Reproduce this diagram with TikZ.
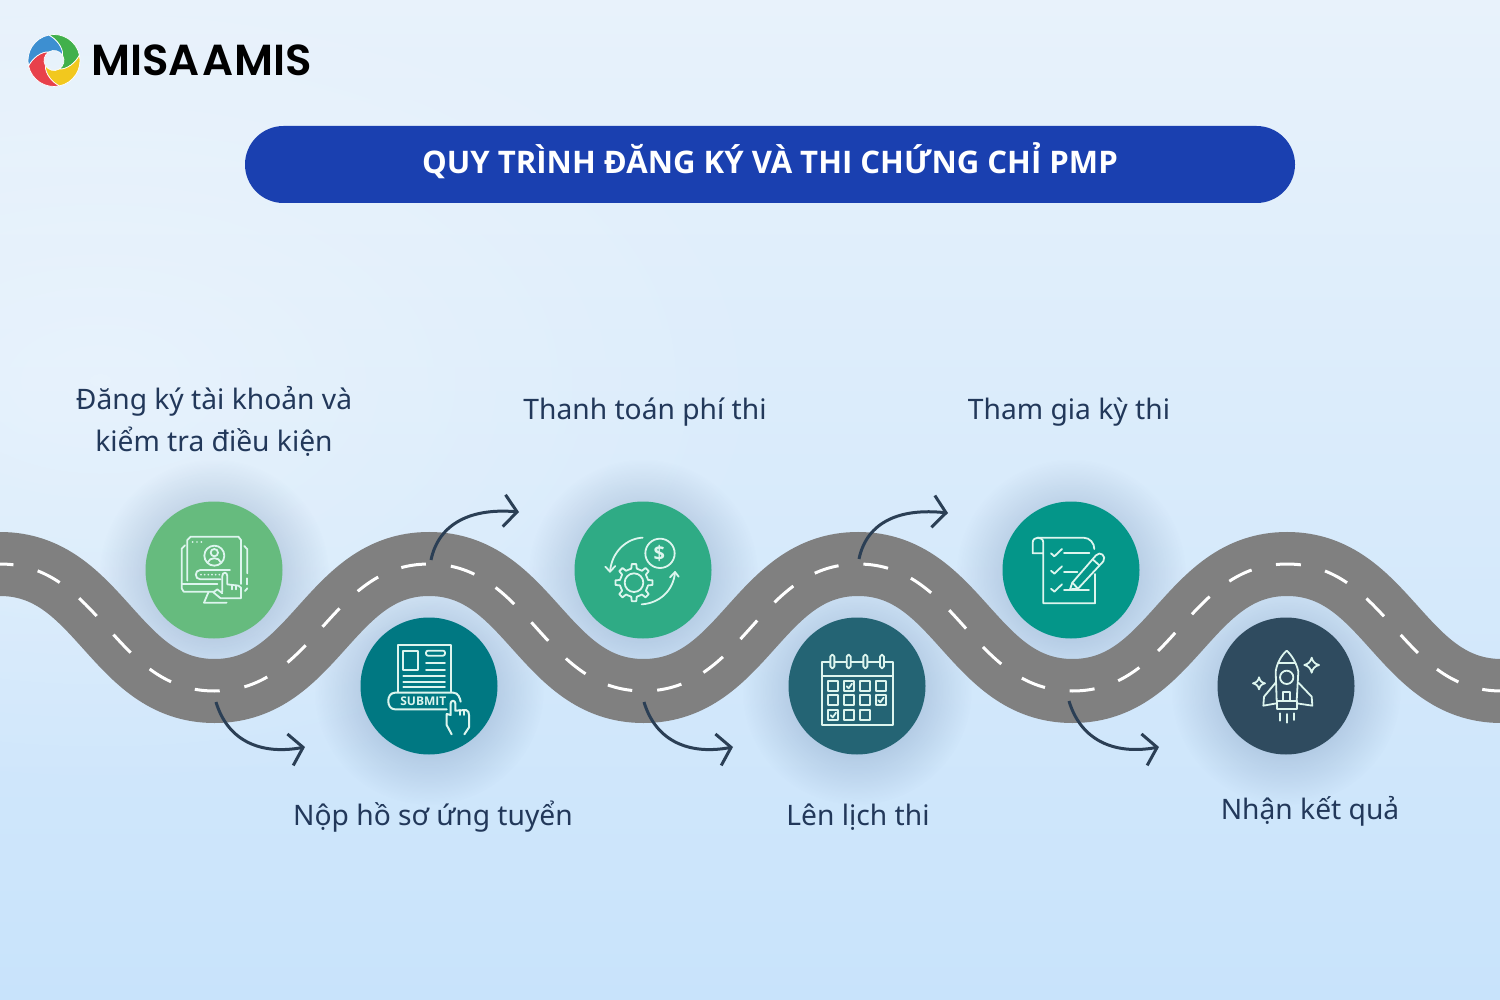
\documentclass[tikz,border=0pt]{standalone}
\usepackage{fontspec}
\setmainfont{Noto Sans}
\newfontfamily\logofont{Poppins SemiBold}
\newfontfamily\boldsans{Open Sans}
\usetikzlibrary{arrows.meta,fadings,calc}
\definecolor{bgtop}{HTML}{E8F2FB}
\definecolor{bgmid}{HTML}{E2F1FD}
\definecolor{bgbot}{HTML}{C8E3FB}
\definecolor{titlebg}{HTML}{1A40B0}
\definecolor{roadcol}{HTML}{808080}
\definecolor{navy}{HTML}{2B3F55}
\definecolor{textcol}{HTML}{22385A}
\definecolor{shadowcol}{HTML}{2F4F80}
\definecolor{iconcol}{HTML}{DDF5EE}
\tikzfading[name=softc, inner color=transparent!60, outer color=transparent!100]
\tikzset{
  disc/.style={circle,minimum size=68.5pt,inner sep=0pt,outer sep=0pt},
  label text/.style={font=\fontsize{14.1}{21}\selectfont,text=textcol,align=center,inner sep=0pt},
  turn/.style={draw=navy,line width=1.5pt,-{Straight Barb[length=6.5pt,width=16pt,line width=1.5pt]}},
  icon/.style={draw=iconcol,line width=.9pt,line join=round,line cap=round},
  halo/.style={fill=shadowcol,path fading=softc},
  blade/.style={draw=white,line width=.35pt,line join=round}
}
\begin{document}
\begin{tikzpicture}[x=0.5pt,y=-0.5pt]
\useasboundingbox (0,0) rectangle (1500,1000);
\begin{scope}
\clip (0,0) rectangle (1500,1000);
\shade[top color=bgtop,middle color=bgmid,bottom color=bgbot] (0,0) rectangle (1500,1000);
\fill[white,opacity=.8,path fading=softc] (100,380) ellipse[x radius=700,y radius=420];
\end{scope}

% logo
\begin{scope}[shift={(54,60.5)},x=0.5pt,y=0.5pt]
  \foreach \r/\c in {0/41B04B,-90/F2C81E,-180/E8414B,-270/3D8FD1}{
    \definecolor{bladecol}{HTML}{\c}
    \fill[bladecol,blade,rotate=\r] (102:26) arc[start angle=102,end angle=12,radius=26]
       .. controls (-5:22) and (-35:16) .. (-60:10)
       arc[start angle=-60,end angle=30,radius=10]
       .. controls (55:16) and (85:22) .. cycle;
  }
\end{scope}
\node[anchor=west,inner sep=0pt,font=\logofont\fontsize{21.7}{21.7}\selectfont] (logo) at (91,60.5) {MISA\hspace{1.5pt}AMIS};

% title
\node[fill=titlebg,rounded corners=19.25pt,minimum width=525pt,minimum height=38.5pt,inner sep=0pt] (titlebar) at (770,164.5) {};
\node[font=\boldsans\fontsize{15.55}{15.55}\selectfont\bfseries,text=white,inner sep=0pt] (title) at (770,161) {QUY TRÌNH ĐĂNG KÝ VÀ THI CHỨNG CHỈ PMP};

% shadows
\foreach \x/\y in {214/570,429/686,643/570,857/686,1071/570,1286/686}{
  \fill[halo] (\x,\y+4) circle[radius=115];
}

% road
\def\roadpath{(-20,564) -- (0,564) .. controls (100,564) and (114,691) .. (214.5,691)
  .. controls (315,691) and (329,564) .. (429,564)
  .. controls (529,564) and (543,691) .. (643.5,691)
  .. controls (744,691) and (758,564) .. (858,564)
  .. controls (958,564) and (972,691) .. (1072.5,691)
  .. controls (1173,691) and (1187,564) .. (1287,564)
  .. controls (1387,564) and (1401,691) .. (1501.5,691) -- (1520,691)}
\draw[roadcol,line width=32pt] \roadpath;
\draw[white,line width=1.5pt,dash pattern=on 12.5pt off 12.5pt,dash phase=20.75pt] \roadpath;

% discs
\node[disc,fill={rgb,255:red,102;green,187;blue,126}] (d1) at (214,570) {};
\node[disc,fill={rgb,255:red,0;green,120;blue,130}] (d2) at (429,686) {};
\node[disc,fill={rgb,255:red,47;green,171;blue,133}] (d3) at (643,570) {};
\node[disc,fill={rgb,255:red,36;green,100;blue,116}] (d4) at (857,686) {};
\node[disc,fill={rgb,255:red,4;green,150;blue,137}] (d5) at (1071,570) {};
\node[disc,fill={rgb,255:red,47;green,75;blue,95}] (d6) at (1286,686) {};

% arrows
\coordinate (a1s) at (216,702); \coordinate (a1e) at (305,747);
\coordinate (a2s) at (431,560); \coordinate (a2e) at (519,512);
\coordinate (a3s) at (644,702); \coordinate (a3e) at (733,747);
\coordinate (a4s) at (859,559); \coordinate (a4e) at (948,513);
\coordinate (a5s) at (1069,701); \coordinate (a5e) at (1159,747);
\draw[turn] (a1s) .. controls ($(a1s)+(12,40)$) and ($(a1s)+(46,53)$) .. (a1e);
\draw[turn] (a2s) .. controls ($(a2s)+(8,-38)$) and ($(a2s)+(42,-52)$) .. (a2e);
\draw[turn] (a3s) .. controls ($(a3s)+(12,40)$) and ($(a3s)+(46,53)$) .. (a3e);
\draw[turn] (a4s) .. controls ($(a4s)+(8,-38)$) and ($(a4s)+(42,-51)$) .. (a4e);
\draw[turn] (a5s) .. controls ($(a5s)+(12,40)$) and ($(a5s)+(46,54)$) .. (a5e);

% labels
\node[label text] (l1) at (214,421) {Đăng ký tài khoản và\\kiểm tra điều kiện};
\node[label text] (l2) at (433,817) {Nộp hồ sơ ứng tuyển};
\node[label text] (l3) at (645,412) {Thanh toán phí thi};
\node[label text] (l4) at (858,817) {Lên lịch thi};
\node[label text] (l5) at (1069,412) {Tham gia kỳ thi};
\node[label text] (l6) at (1310,811) {Nhận kết quả};

% icon 1
\begin{scope}[shift={(130,490)},x=0.16667pt,y=-0.16667pt]
  \draw[icon] (172,272) -- (172,150) -- (182,140) -- (325,140) -- (333,150) -- (333,282);
  \foreach \x in {188,201,214} \fill[iconcol] (\x,156) circle[radius=2.8];
  \draw[icon] (165,166) -- (155,176) -- (155,295) -- (161,305) -- (252,305);
  \draw[icon] (155,283) -- (262,283);
  \draw[icon] (343,168) -- (352,178) -- (352,250);
  \draw[icon] (352,265) -- (352,283);
  \draw[icon] (345,303) -- (352,295);
  \draw[icon] (236,305) -- (222,338) -- (290,338);
  \draw[icon] (253,197) circle[radius=30];
  \draw[icon] (253,188) circle[radius=11];
  \draw[icon] (233,218) .. controls (238,200) and (268,200) .. (273,218);
  \draw[icon] (272,268) -- (211,268) .. controls (193,268) and (193,240) .. (211,240) -- (300,240);
  \foreach \x in {213,224,235,246,257,268} \fill[iconcol] (\x,254) circle[radius=2.8];
  \draw[icon] (277,305) -- (277,258) .. controls (277,245) and (292,245) .. (292,258) -- (292,283)
     -- (325,287) -- (333,293) -- (333,325) -- (272,325) -- (250,307) -- (262,298) -- (277,310);
  \draw[icon] (305,285) -- (305,298);
  \draw[icon] (319,286) -- (319,298);
\end{scope}

% icon 2
\begin{scope}[shift={(130,490)},x=0.16667pt,y=-0.16667pt]
  \draw[icon] (803,605) -- (803,465) -- (963,465) -- (963,605);
  \draw[icon] (820,482) rectangle (865,540);
  \draw[icon,rounded corners=1pt] (888,482) rectangle (945,497);
  \draw[icon] (888,520) -- (945,520);
  \draw[icon] (888,540) -- (945,540);
  \draw[icon] (820,558) -- (945,558);
  \draw[icon] (820,575) -- (945,575);
  \draw[icon] (820,592) -- (945,592);
  \draw[icon,line width=1pt] (950,658) -- (795,658) .. controls (768,658) and (768,608) .. (795,608)
     -- (970,608) .. controls (985,608) and (990,625) .. (992,635);
  \node[inner sep=0pt,text=iconcol,font=\boldsans\fontsize{6}{6}\selectfont\bfseries] (sub) at (880,635) {SUBMIT};
  \draw[icon,line width=1pt] (965,733) -- (950,705) -- (950,672) -- (962,675) -- (962,640)
     .. controls (962,630) and (976,630) .. (976,640) -- (976,662) -- (1008,660)
     .. controls (1015,662) and (1017,668) .. (1017,675) -- (1017,712) -- (1003,733);
  \draw[icon] (990,660) -- (990,675);
  \draw[icon] (1003,660) -- (1003,675);
\end{scope}

% icon 3
\begin{scope}[shift={(560,490)},x=0.16667pt,y=-0.16667pt]
  \draw[icon] (300,190) circle[radius=44];
  \node[inner sep=0pt,text=iconcol,font=\boldsans\fontsize{10}{10}\selectfont\bfseries] (dollar) at (298,190) {\$};
  \begin{scope}[shift={(222,278)}]
    \draw[icon] (-11:43) \foreach \a in {0,45,...,315}{ -- (\a-11:43) -- (\a-7:56) -- (\a+7:56) -- (\a+11:43)} -- cycle;
    \draw[icon] (0,0) circle[radius=28];
  \end{scope}
  \draw[icon] (248,143) .. controls (200,145) and (155,185) .. (150,245);
  \draw[icon] (136,230) -- (150,245) -- (166,228);
  \draw[icon] (245,343) .. controls (295,340) and (340,305) .. (345,247);
  \draw[icon] (330,262) -- (345,246) -- (356,260);
\end{scope}

% icon 4
\begin{scope}[shift={(560,490)},x=0.16667pt,y=-0.16667pt]
  \draw[icon] (810,517) -- (785,517) -- (785,705) -- (998,705) -- (998,517) -- (973,517);
  \draw[icon] (785,558) -- (998,558);
  \foreach \x in {817,866,916,966}{
    \draw[icon,rounded corners=.95pt] (\x-6,494) rectangle (\x+6,535);
  }
  \draw[icon] (824,517) -- (859,517);
  \draw[icon] (873,517) -- (909,517);
  \draw[icon] (923,517) -- (959,517);
  \foreach \x/\y in {820/588,868/588,915/588,963/588,820/630,868/630,915/630,963/630,820/675,868/675,915/675}{
    \draw[icon] (\x-15,\y-15) rectangle (\x+15,\y+15);
  }
  \foreach \x/\y in {868/588,963/630,820/675}{
    \draw[icon] (\x-8,\y+1) -- (\x-2,\y+7) -- (\x+8,\y-7);
  }
\end{scope}

% icon 5
\begin{scope}[shift={(990,490)},x=0.16667pt,y=-0.16667pt]
  \draw[icon] (160,190) -- (128,190) -- (128,158) .. controls (128,138) and (160,138) .. (160,158) -- (160,340) -- (315,340) -- (315,252);
  \draw[icon] (143,143) -- (280,143) .. controls (300,143) and (313,160) .. (313,177);
  \foreach \y in {190,242,296}{
    \draw[icon] (183,\y) -- (193,\y+9) -- (216,\y-13);
  }
  \draw[icon] (222,190) -- (298,190);
  \draw[icon] (222,246) -- (262,246);
  \draw[icon] (222,300) -- (297,300);
  \draw[icon] (240,298) -- (247,278) -- (318,196) .. controls (330,182) and (350,198) .. (340,214) -- (264,296) -- cycle;
  \draw[icon] (247,278) -- (264,296);
  \draw[icon] (308,208) -- (328,226);
\end{scope}

% icon 6
\begin{scope}[shift={(990,490)},x=0.16667pt,y=-0.16667pt]
  \draw[icon] (860,632) -- (857,545) .. controls (860,520) and (875,495) .. (890,482) .. controls (905,495) and (920,520) .. (925,545) -- (920,632);
  \draw[icon] (866,520) -- (915,520);
  \draw[icon] (890,562) circle[radius=20];
  \draw[icon] (857,578) -- (822,620) -- (820,647) -- (860,640);
  \draw[icon] (925,578) -- (965,620) -- (967,647) -- (920,640);
  \draw[icon] (880,632) -- (880,605) -- (900,605) -- (900,632);
  \draw[icon] (860,632) -- (920,632) -- (920,658) -- (860,658) -- cycle;
  \draw[icon] (870,670) -- (870,692);
  \draw[icon] (890,672) -- (890,698);
  \draw[icon] (912,670) -- (912,690);
  \draw[icon] (965,503) .. controls (968,515) and (975,522) .. (987,525) .. controls (975,528) and (968,535) .. (965,548) .. controls (962,535) and (955,528) .. (943,525) .. controls (955,522) and (962,515) .. (965,503) -- cycle;
  \draw[icon] (807,562) .. controls (809,572) and (815,578) .. (825,580) .. controls (815,582) and (809,588) .. (807,598) .. controls (805,588) and (799,582) .. (789,580) .. controls (799,578) and (805,572) .. (807,562) -- cycle;
\end{scope}
\end{tikzpicture}
\end{document}
